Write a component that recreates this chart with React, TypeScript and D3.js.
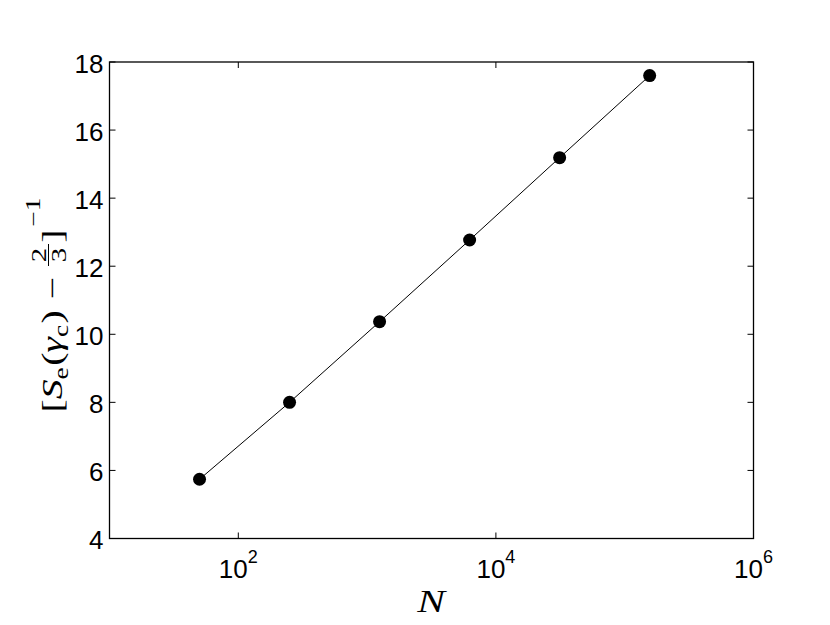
import React, { useEffect, useRef } from "react";
import * as d3 from "d3";

// system size N and measured [S_e(gamma_c) - 2/3]^-1
const sizes = [50, 250, 1250, 6250, 31250, 156250];
const inverseGap = [5.74, 8.0, 10.37, 12.77, 15.19, 17.6];

const xTickExponents = [2, 4, 6];
const yTicks = [4, 6, 8, 10, 12, 14, 16, 18];

const width = 830,
  height = 625;
const frame = { left: 109.5, right: 753.5, top: 62, bottom: 538.5 };

const x = d3.scaleLog().domain([10, 1e6]).range([frame.left, frame.right]);
const y = d3.scaleLinear().domain([4, 18]).range([frame.bottom, frame.top]);

const tickFont = "'Liberation Sans', Arial, Helvetica, sans-serif";
const mathFont = "'Liberation Serif', 'Times New Roman', serif";

export default function App() {
  const ref = useRef<SVGSVGElement>(null);

  useEffect(() => {
    const svg = d3.select(ref.current);
    svg.selectAll("*").remove();

    svg
      .append("rect")
      .attr("width", width)
      .attr("height", height)
      .attr("fill", "#ffffff");

    const tickLen = 6;

    // ticks on all four sides, pointing inward
    const ticks = svg.append("g").attr("stroke", "#000").attr("stroke-width", 1);
    yTicks.forEach((t) => {
      const py = y(t);
      ticks.append("line").attr("x1", frame.left).attr("x2", frame.left + tickLen).attr("y1", py).attr("y2", py);
      ticks.append("line").attr("x1", frame.right).attr("x2", frame.right - tickLen).attr("y1", py).attr("y2", py);
    });
    xTickExponents.forEach((e) => {
      const px = x(Math.pow(10, e));
      ticks.append("line").attr("x1", px).attr("x2", px).attr("y1", frame.bottom).attr("y2", frame.bottom - tickLen);
      ticks.append("line").attr("x1", px).attr("x2", px).attr("y1", frame.top).attr("y2", frame.top + tickLen);
    });

    // axes box
    svg
      .append("rect")
      .attr("x", frame.left)
      .attr("y", frame.top)
      .attr("width", frame.right - frame.left)
      .attr("height", frame.bottom - frame.top)
      .attr("fill", "none")
      .attr("stroke", "#000")
      .attr("stroke-width", 1.3);

    // y tick labels
    svg
      .append("g")
      .selectAll("text")
      .data(yTicks)
      .enter()
      .append("text")
      .attr("x", frame.left - 6)
      .attr("y", (d) => y(d) + 10.5)
      .attr("text-anchor", "end")
      .style("font-family", tickFont)
      .style("font-size", "26px")
      .text((d) => d);

    // x tick labels 10^e
    const xl = svg
      .append("g")
      .selectAll("text")
      .data(xTickExponents)
      .enter()
      .append("text")
      .attr("x", (d) => x(Math.pow(10, d)))
      .attr("y", 578)
      .attr("text-anchor", "middle")
      .style("font-family", tickFont)
      .style("font-size", "26px");
    xl.append("tspan").text("10");
    xl.append("tspan")
      .attr("dy", -15)
      .style("font-size", "18px")
      .text((d) => d);

    // data line + markers
    const pts: [number, number][] = sizes.map((n, i) => [n, inverseGap[i]]);
    svg
      .append("path")
      .datum(pts)
      .attr("fill", "none")
      .attr("stroke", "#000")
      .attr("stroke-width", 1)
      .attr(
        "d",
        d3
          .line<[number, number]>()
          .x((d) => x(d[0]))
          .y((d) => y(d[1]))
      );

    svg
      .append("g")
      .selectAll("circle")
      .data(pts)
      .enter()
      .append("circle")
      .attr("cx", (d) => x(d[0]))
      .attr("cy", (d) => y(d[1]))
      .attr("r", 6.5)
      .attr("fill", "#000");

    // x label
    svg
      .append("text")
      .attr("transform", "translate(431,612) scale(1.3,1)")
      .attr("text-anchor", "middle")
      .style("font-family", mathFont)
      .style("font-style", "italic")
      .style("font-size", "32px")
      .text("N");

    // y label: [S_e(γ_c) − 2/3]^{-1}, built piece by piece and measured
    const lab = svg.append("g");
    const inner = lab.append("g");
    let cursor = 0;
    const piece = (
      t: string,
      opts: { italic?: boolean; size?: number; dy?: number; gap?: number } = {}
    ) => {
      cursor += opts.gap || 0;
      const el = inner
        .append("text")
        .attr("x", cursor)
        .attr("y", opts.dy || 0)
        .style("font-family", mathFont)
        .style("font-style", opts.italic ? "italic" : "normal")
        .style("font-size", (opts.size || 29) + "px")
        .text(t);
      cursor += (el.node() as SVGTextElement).getComputedTextLength();
    };
    piece("[");
    piece("S", { italic: true });
    piece("e", { size: 20, dy: 6 });
    piece("(", { gap: 1 });
    piece("γ", { italic: true });
    piece("c", { size: 20, dy: 6 });
    piece(")", { gap: 1 });
    piece("−", { gap: 8 });
    // fraction 2/3
    cursor += 8;
    const fracStart = cursor;
    const fracW = 16;
    const frac = inner
      .append("g")
      .style("font-family", mathFont)
      .style("font-size", "21px")
      .attr("text-anchor", "middle");
    frac.append("text").attr("x", fracStart + fracW / 2).attr("y", -16).text("2");
    frac.append("text").attr("x", fracStart + fracW / 2).attr("y", 4).text("3");
    frac
      .append("line")
      .attr("x1", fracStart)
      .attr("x2", fracStart + fracW)
      .attr("y1", -13.5)
      .attr("y2", -13.5)
      .attr("stroke", "#000")
      .attr("stroke-width", 1);
    cursor += fracW + 1;
    piece("]");
    piece("−1", { size: 20, dy: -22, gap: 2 });
    const total = cursor;
    const sx = 215 / total;
    inner.attr("transform", `scale(${sx},1) translate(${-total / 2},0)`);
    lab.attr("transform", "translate(62,305) rotate(-90)");
  }, []);

  return (
    <svg
      ref={ref}
      width={width}
      height={height}
      style={{ position: "absolute", left: 0, top: 0, display: "block" }}
    />
  );
}
